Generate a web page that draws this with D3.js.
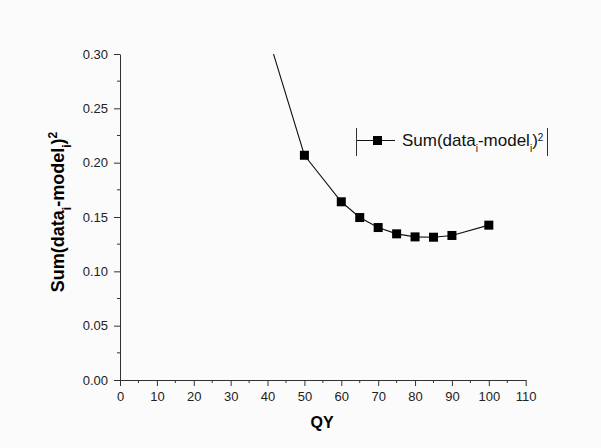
<!DOCTYPE html>
<html>
<head>
<meta charset="utf-8">
<script src="https://cdn.jsdelivr.net/npm/d3@7"></script>
<style>
  body { margin: 0; background: #fbfbfb; }
  svg { font-family: Arial, "Liberation Sans", sans-serif; }
</style>
</head>
<body>
<script>
const width = 601;
const height = 448;

// QY values and the summed squared residuals
const qy = [40, 50, 60, 65, 70, 75, 80, 85, 90, 100];
const sumSq = [0.318, 0.2068, 0.1640, 0.1495, 0.1403, 0.1345, 0.1317, 0.1314, 0.1330, 0.1425];
const xTicks = [0, 10, 20, 30, 40, 50, 60, 70, 80, 90, 100, 110];
const yTicks = [0, 0.05, 0.10, 0.15, 0.20, 0.25, 0.30];

const x = d3.scaleLinear().domain([0, 110]).range([120, 525.7]);
const y = d3.scaleLinear().domain([0, 0.30]).range([380, 54]);

const svg = d3.select('body').append('svg')
    .attr('width', width)
    .attr('height', height);

svg.append('rect').attr('width', width).attr('height', height).attr('fill', '#fbfbfb');

svg.append('clipPath').attr('id', 'plot')
    .append('rect')
    .attr('x', x(0)).attr('y', y(0.30))
    .attr('width', x(110) - x(0)).attr('height', y(0) - y(0.30));

// minor ticks
svg.append('g').attr('stroke', '#333').attr('stroke-width', 1)
    .selectAll('line').data(d3.range(5, 110, 10)).enter().append('line')
    .attr('x1', d => x(d)).attr('x2', d => x(d))
    .attr('y1', y(0)).attr('y2', y(0) + 3);
svg.append('g').attr('stroke', '#333').attr('stroke-width', 1)
    .selectAll('line').data(d3.range(0.025, 0.3, 0.05)).enter().append('line')
    .attr('y1', d => y(d)).attr('y2', d => y(d))
    .attr('x1', x(0)).attr('x2', x(0) - 3);

const xAxis = svg.append('g')
    .attr('transform', `translate(0,${y(0)})`)
    .call(d3.axisBottom(x).tickValues(xTicks).tickSize(6).tickSizeOuter(0).tickPadding(6));

const yAxis = svg.append('g')
    .attr('transform', `translate(${x(0)},0)`)
    .call(d3.axisLeft(y).tickValues(yTicks).tickFormat(d3.format('.2f')).tickSize(6).tickSizeOuter(0).tickPadding(6));

[xAxis, yAxis].forEach(a => {
    a.select('.domain').attr('stroke', '#333');
    a.selectAll('.tick line').attr('stroke', '#333');
    a.selectAll('.tick text').attr('fill', '#222').style('font-size', '13px').style('font-family', 'Arial, "Liberation Sans", sans-serif');
});

// line + markers
const line = d3.line().x((d, i) => x(qy[i])).y(d => y(d));
svg.append('path')
    .datum(sumSq)
    .attr('clip-path', 'url(#plot)')
    .attr('fill', 'none')
    .attr('stroke', '#111')
    .attr('stroke-width', 1.1)
    .attr('d', line);

svg.append('g').attr('clip-path', 'url(#plot)')
    .selectAll('rect').data(sumSq).enter().append('rect')
    .attr('x', (d, i) => x(qy[i]) - 4.5)
    .attr('y', d => y(d) - 4.5)
    .attr('width', 9).attr('height', 9)
    .attr('fill', '#000');

// axis titles
svg.append('text')
    .attr('x', 322).attr('y', 428)
    .attr('text-anchor', 'middle')
    .style('font-size', '16px').style('font-weight', 'bold')
    .text('QY');

const yl = svg.append('text')
    .attr('transform', 'translate(64,212) rotate(-90)')
    .attr('text-anchor', 'middle')
    .style('font-size', '18px').style('font-weight', 'bold');
yl.append('tspan').text('Sum(data');
yl.append('tspan').attr('baseline-shift', 'sub').style('font-size', '12px').text('i');
yl.append('tspan').text('-model');
yl.append('tspan').attr('baseline-shift', 'sub').style('font-size', '12px').text('i');
yl.append('tspan').text(')');
yl.append('tspan').attr('baseline-shift', 'super').style('font-size', '12px').text('2');

// legend
const lg = svg.append('g');
lg.append('line').attr('x1', 356.5).attr('x2', 356.5).attr('y1', 128).attr('y2', 156).attr('stroke', '#333');
lg.append('line').attr('x1', 547.5).attr('x2', 547.5).attr('y1', 128).attr('y2', 156).attr('stroke', '#333');
lg.append('line').attr('x1', 357).attr('x2', 395).attr('y1', 140.5).attr('y2', 140.5).attr('stroke', '#111').attr('stroke-width', 1.1);
lg.append('rect').attr('x', 373).attr('y', 136).attr('width', 9).attr('height', 9).attr('fill', '#000');
const lt = lg.append('text').attr('x', 402).attr('y', 146).style('font-size', '17px').attr('fill', '#111');
lt.append('tspan').text('Sum(data');
lt.append('tspan').attr('baseline-shift', 'sub').style('font-size', '10px').text('i');
lt.append('tspan').text('-model');
lt.append('tspan').attr('baseline-shift', 'sub').style('font-size', '10px').text('i');
lt.append('tspan').text(')');
lt.append('tspan').attr('baseline-shift', 'super').style('font-size', '10px').text('2');
</script>
</body>
</html>
